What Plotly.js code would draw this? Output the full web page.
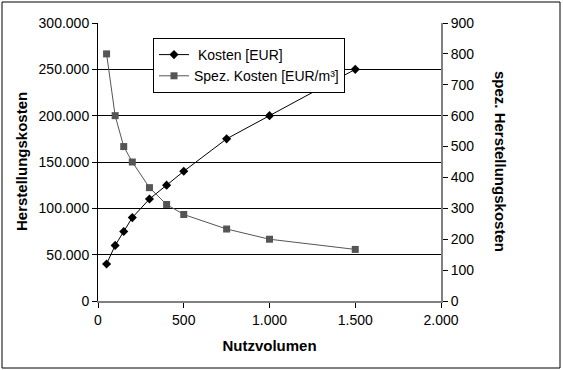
<!DOCTYPE html>
<html><head><meta charset="utf-8">
<script src="https://cdn.plot.ly/plotly-3.0.1.min.js"></script>
<style>html,body{margin:0;padding:0;background:#fff}#c{width:563px;height:370px}</style>
</head><body><div id="c"></div>
<script>
const nutzvolumen = [50, 100, 150, 200, 300, 400, 500, 750, 1000, 1500];
const kosten = [40000, 60000, 75000, 90000, 110000, 125000, 140000, 175000, 200000, 250000];
const spezKosten = [800, 600, 500, 450, 367, 312.5, 280, 233, 200, 167];
const nameKosten = ' Kosten [EUR]';
const nameSpez = 'Spez. Kosten [EUR/m³]';

const L = 98, R = 441, T = 23, B = 301, W = 563, H = 370;
const pw = R - L, ph = B - T;
const px = v => (v - L) / pw;
const py = v => (B - v) / ph;
const font = {family: 'Liberation Sans, Arial, sans-serif', size: 14, color: '#000'};
const tfont = {family: 'Liberation Sans, Arial, sans-serif', size: 15, color: '#000'};

const traces = [
  {x: nutzvolumen, y: kosten, name: nameKosten, type: 'scatter', mode: 'lines+markers',
   line: {color: '#000', width: 1}, marker: {symbol: 'diamond', size: 7, color: '#000'}, yaxis: 'y'},
  {x: nutzvolumen, y: spezKosten, name: nameSpez, type: 'scatter', mode: 'lines+markers',
   line: {color: '#555', width: 1}, marker: {symbol: 'square', size: 7, color: '#555'}, yaxis: 'y2'}
];

const layout = {
  width: W, height: H, margin: {l: L, r: W - R, t: T, b: H - B},
  paper_bgcolor: '#fff', plot_bgcolor: '#fff', font: font, separators: ',.',
  showlegend: true,
  legend: {x: px(153), y: py(38), xanchor: 'left', yanchor: 'top', bgcolor: '#fff',
    bordercolor: '#000', borderwidth: 1, font: font, tracegroupgap: 0, itemwidth: 30},
  xaxis: {range: [0, 2000], tickvals: [0, 500, 1000, 1500, 2000], tickformat: ',d',
    showgrid: false, zeroline: false, showline: true, linecolor: '#808080', linewidth: 2,
    ticks: 'outside', ticklen: 5, tickcolor: '#000',
    title: {text: '<b>Nutzvolumen</b>', font: tfont, standoff: 14}},
  yaxis: {range: [0, 300000], tickvals: [0, 50000, 100000, 150000, 200000, 250000, 300000],
    tickformat: ',d', showgrid: true, gridcolor: '#000', gridwidth: 1, zeroline: false,
    showline: true, linecolor: '#000', linewidth: 1, ticks: 'outside', ticklen: 5, tickcolor: '#000'},
  yaxis2: {range: [0, 900], tickvals: [0, 100, 200, 300, 400, 500, 600, 700, 800, 900],
    overlaying: 'y', side: 'right', showgrid: false, zeroline: false, showline: true,
    linecolor: '#808080', linewidth: 2, ticks: 'outside', ticklen: 5, tickcolor: '#000'},
  annotations: [
    {text: '<b>Herstellungskosten</b>', xref: 'paper', yref: 'paper', x: px(21), y: 0.5,
     textangle: -90, showarrow: false, font: tfont, xanchor: 'center', yanchor: 'middle'},
    {text: '<b>spez. Herstellungskosten</b>', xref: 'paper', yref: 'paper', x: px(501), y: 0.5,
     textangle: 90, showarrow: false, font: tfont, xanchor: 'center', yanchor: 'middle'}
  ],
  shapes: [
    {type: 'rect', xref: 'paper', yref: 'paper', x0: px(2), x1: px(560), y0: py(368), y1: py(2),
     line: {color: '#000', width: 1}, fillcolor: 'rgba(0,0,0,0)'}
  ]
};
Plotly.newPlot('c', traces, layout, {staticPlot: true});
</script></body></html>
